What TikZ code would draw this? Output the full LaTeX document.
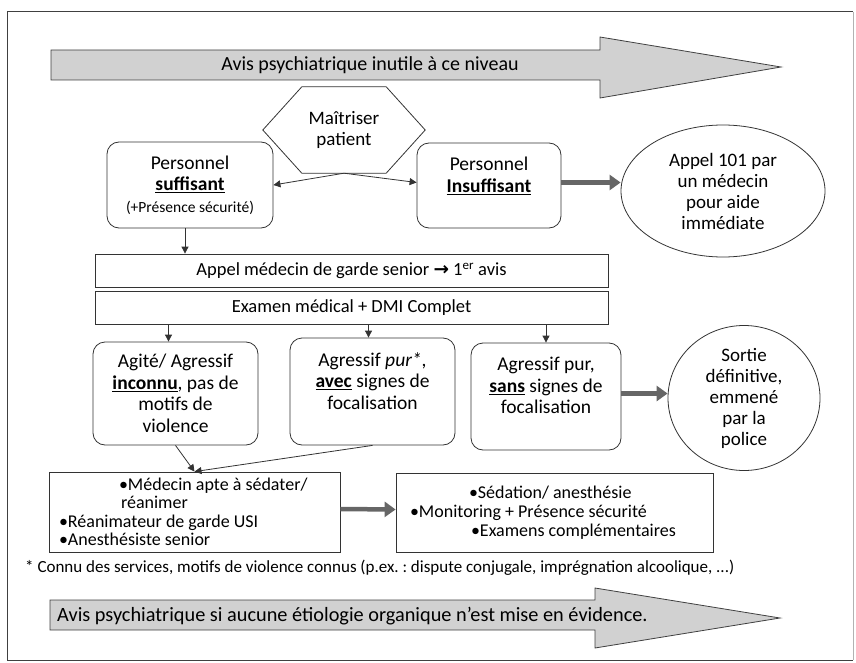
\documentclass[tikz,border=0pt]{standalone}
\usepackage{fontspec}
\setmainfont{Carlito}
\newfontfamily\symbfont{DejaVu Sans}
\usetikzlibrary{arrows.meta,shapes.geometric,positioning}
\frenchspacing

\begin{document}
\begin{tikzpicture}[x=1pt,y=-1pt,
        boite/.style={draw=black!80,line width=0.8pt,rounded corners=12pt,align=center,
            font=\fontsize{19.5}{21.5}\selectfont},
        bande/.style={draw=black!80,line width=0.8pt,align=center,
            font=\fontsize{18.5}{20}\selectfont},
        rond/.style={ellipse,draw=black!80,line width=0.8pt,align=center,inner sep=0pt,
            font=\fontsize{19}{21}\selectfont},
        liste/.style={draw=black!80,line width=0.8pt,align=flush left,inner xsep=10pt,
            font=\fontsize{18}{18.5}\selectfont},
        fine/.style={draw=black!80,line width=0.8pt,-{Triangle[length=7pt,width=7pt]}},
        grosse/.style={draw=black!60,line width=4.5pt,-{Triangle[length=11pt,width=15pt]}},
        bigfleche/.style={draw=black!75,fill=flechegris,line width=0.8pt}
    ]
    \colorlet{flechegris}{black!18}

    % cadre
    \useasboundingbox (0,0) rectangle (856,663);
    \draw[black!75,line width=1pt] (853,12) -- (7,12) -- (7,660) -- (853,660);
    \draw[black!30,line width=0.8pt] (853,12) -- (853,660);

    % fleche du haut
    \draw[bigfleche] (51,50) -- (600,50) -- (600,37) -- (781,67) -- (600,98) -- (600,80) -- (51,80) -- cycle;
    \node (avis1) [font=\fontsize{20}{22}\selectfont] at (370,65) {Avis psychiatrique inutile à ce niveau};

    % maitriser
    \node (hex) [minimum width=162pt,minimum height=86pt,align=center,
        font=\fontsize{19}{21}\selectfont] at (344,130) {Maîtriser\\patient};
    \draw[black!80,line width=0.8pt] (hex.west) -- ([xshift=39pt]hex.north west) -- ([xshift=-39pt]hex.north east)
        -- (hex.east) -- ([xshift=-39pt]hex.south east) -- ([xshift=39pt]hex.south west) -- cycle;

    \node (suff) [boite,minimum width=166pt,minimum height=86pt] at (190,185)
        {Personnel\\\underline{\textbf{suffisant}}\\{\fontsize{15.5}{18}\selectfont(+Présence sécurité)}};
    \node (insuff) [boite,minimum width=144pt,minimum height=85pt] at (489,185.5)
        {Personnel\\\underline{\textbf{Insuffisant}}\\\mbox{}};
    \node (appel101) [rond,minimum width=204pt,minimum height=132pt] at (723,191)
        {Appel 101 par\\un médecin\\pour aide\\immédiate};

    \draw[fine] (hex.south) -- (suff.east);
    \draw[fine] (hex.south) -- ([yshift=3pt]insuff.west);
    \draw[grosse] ([yshift=3pt]insuff.east) -- ([yshift=3pt]insuff.east -| appel101.west);

    % appel et examen
    \node (appel) [bande,minimum width=513pt,minimum height=33pt] at (351.5,270.5)
        {Appel médecin de garde senior {\symbfont\bfseries →} 1\textsuperscript{er} avis};
    \node (examen) [bande,minimum width=513pt,minimum height=33pt] at (351.5,307.5)
        {Examen médical + DMI Complet};
    \draw[fine] ([xshift=-5pt]suff.south) -- ([xshift=-5pt]suff.south |- appel.north);

    % trois cas
    \node (agite) [boite,minimum width=165pt,minimum height=103pt] at (175.5,393.5)
        {Agité/ Agressif\\\underline{\textbf{inconnu}}, pas de\\motifs de\\violence};
    \node (pur) [boite,minimum width=165pt,minimum height=107pt] at (372.5,391.5)
        {Agressif \textit{pur*},\\\underline{\textbf{avec}} signes de\\focalisation\\\mbox{}};
    \node (sans) [boite,minimum width=150pt,minimum height=107pt] at (546,396.5)
        {Agressif pur,\\\underline{\textbf{sans}} signes de\\focalisation\\\mbox{}};
    \node (sortie) [rond,minimum width=152pt,minimum height=145pt] at (744,398)
        {Sortie\\définitive,\\emmené\\par la\\police};

    \draw[fine] ([xshift=-7pt]examen.south -| agite.north) -- ([xshift=-7pt]agite.north);
    \draw[fine] ([xshift=-4pt]examen.south -| pur.north) -- ([xshift=-4pt]pur.north);
    \draw[fine] (examen.south -| sans.north) -- (sans.north);
    \draw[grosse] ([yshift=3pt]sans.east) -- ([yshift=3pt]sans.east -| sortie.west);

    % prise en charge
    \node (medecin) [liste,minimum width=291pt,minimum height=80pt,text width=271pt] at (194.5,512)
        {\hspace*{60pt}•Médecin apte à sédater/\\\hspace*{62pt}réanimer\\•Réanimateur de garde USI\\•Anesthésiste senior};
    \node (soins) [liste,minimum width=317pt,minimum height=79pt,text width=289pt,inner xsep=14pt,
        font=\fontsize{18}{19}\selectfont] at (554.5,512.5)
        {\hspace*{59pt}•Sédation/ anesthésie\\•Monitoring + Présence sécurité\\\hspace*{61pt}•Examens complémentaires};

    \draw[fine] (agite.south) -- (medecin.north);
    \draw[fine] (pur.south) -- (medecin.north);
    \draw[grosse] ([yshift=3pt]medecin.east) -- ([yshift=3pt]soins.west);

    \node (note) [anchor=west,inner sep=0pt,font=\fontsize{17}{19}\selectfont] at (25,568)
        {* Connu des services, motifs de violence connus (p.ex.~: dispute conjugale, imprégnation alcoolique, ...)};

    % fleche du bas
    \draw[bigfleche] (50,600) -- (595,600) -- (595,588) -- (780,618) -- (595,648) -- (595,630) -- (50,630) -- cycle;
    \node (avis2) [anchor=west,inner sep=0pt,font=\fontsize{20.3}{22}\selectfont] at (57,616)
        {Avis psychiatrique si aucune étiologie organique n’est mise en évidence.};
\end{tikzpicture}
\end{document}
